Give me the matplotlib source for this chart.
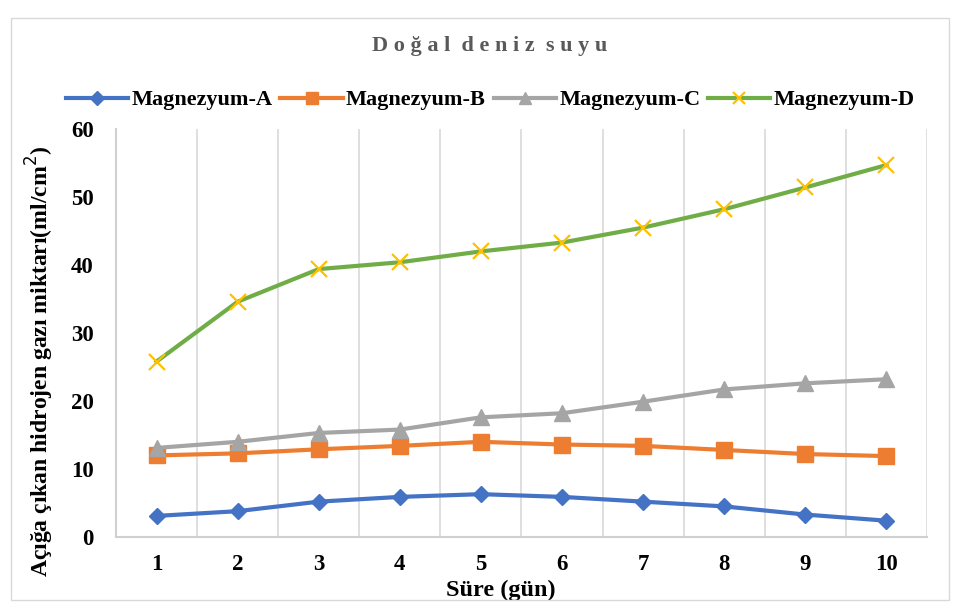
import matplotlib
matplotlib.use("Agg")
import matplotlib.pyplot as plt
from matplotlib.patches import Rectangle

days = [1, 2, 3, 4, 5, 6, 7, 8, 9, 10]
day_labels = ["1", "2", "3", "4", "5", "6", "7", "8", "9", "10"]
mg_a = [3.1, 3.8, 5.2, 5.9, 6.3, 5.9, 5.2, 4.5, 3.3, 2.4]
mg_b = [12.0, 12.3, 12.9, 13.4, 14.0, 13.6, 13.4, 12.8, 12.2, 11.9]
mg_c = [13.1, 14.0, 15.3, 15.8, 17.6, 18.2, 19.9, 21.7, 22.6, 23.2]
mg_d = [25.8, 34.6, 39.4, 40.4, 42.0, 43.3, 45.5, 48.2, 51.4, 54.7]
series_names = ["Magnezyum-A", "Magnezyum-B", "Magnezyum-C", "Magnezyum-D"]
y_ticks = [0, 10, 20, 30, 40, 50, 60]

serif = ["Liberation Serif", "DejaVu Serif"]
plt.rcParams['font.family'] = serif

fig = plt.figure(figsize=(9.56, 6.07), dpi=100)
ax = fig.add_axes([0.1213, 0.1153, 0.8484, 0.6722])

# outer chart frame
fig.patches.append(Rectangle((0.011, 0.012), 0.982, 0.958, transform=fig.transFigure,
                             fill=False, edgecolor="#d9d9d9", linewidth=1.0))

lw = 3.0
ax.plot(days, mg_a, color="#4472C4", lw=lw, marker="D", ms=8, mec="#4472C4", label=series_names[0], zorder=3)
ax.plot(days, mg_b, color="#ED7D31", lw=lw, marker="s", ms=11, mec="#ED7D31", label=series_names[1], zorder=3)
ax.plot(days, mg_c, color="#A5A5A5", lw=lw, marker="^", ms=11, mec="#A5A5A5", label=series_names[2], zorder=3)
ax.plot(days, mg_d, color="#70AD47", lw=lw, marker="x", ms=11, mew=1.6, mec="#FFC000", label=series_names[3], zorder=3)

ax.set_xlim(0.5, 10.5)
ax.set_ylim(0, 60)
ax.set_yticks(y_ticks)
ax.set_xticks(days)
ax.set_xticklabels(day_labels)
for b in [x + 0.5 for x in days]:
    ax.axvline(b, color="#d9d9d9", lw=1.2, zorder=1)

for s in ["top", "right"]:
    ax.spines[s].set_visible(False)
for s in ["left", "bottom"]:
    ax.spines[s].set_color("#d0d0d0")
    ax.spines[s].set_linewidth(1.5)
ax.tick_params(length=0, labelsize=16.5, pad=12)
ax.tick_params(axis="y", pad=16)
for t in ax.get_xticklabels() + ax.get_yticklabels():
    t.set_fontweight("bold")

ax.set_xlabel("Süre (gün)", fontsize=17.5, fontweight="bold")
ax.xaxis.set_label_coords(0.475, -0.105)
ax.set_ylabel("Açığa çıkan hidrojen gazı miktarı(ml/cm$^2$)", fontsize=17, fontweight="bold")
ax.yaxis.set_label_coords(-0.074, 0.43)

fig.text(0.512, 0.925, "D o ğ a l  d e n i z  s u y u", ha="center", va="center",
         fontsize=16, fontweight="bold", color="#595959")

leg = fig.legend(loc="center", bbox_to_anchor=(0.513, 0.835), ncol=4, frameon=False,
                 prop={"family": serif, "weight": "bold", "size": 16},
                 handlelength=2.8, handletextpad=0.15, columnspacing=0.35, markerscale=0.85)

fig.savefig("out.png", dpi=100)
